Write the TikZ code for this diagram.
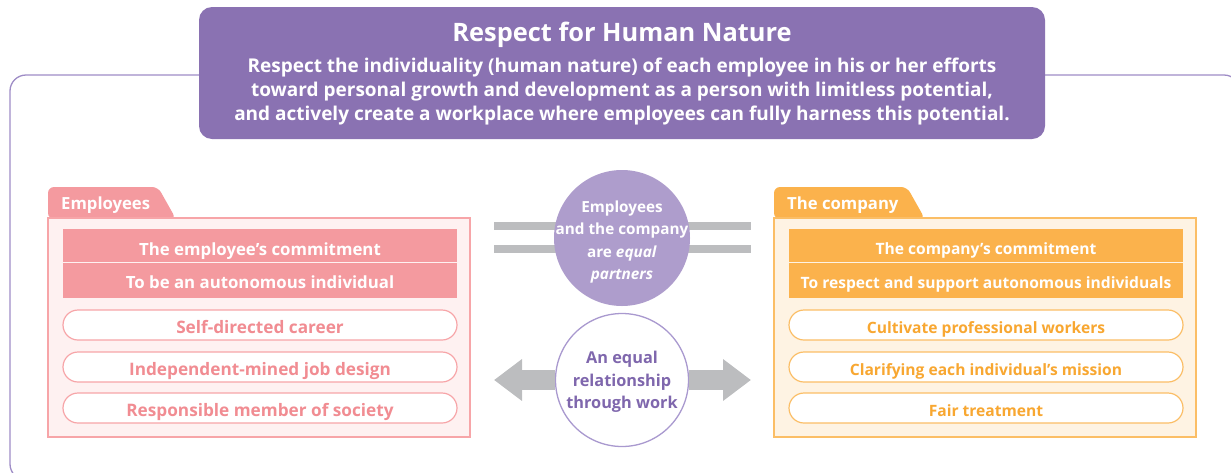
\documentclass[tikz,border=0pt]{standalone}
\usepackage{fontspec}
\setmainfont{Open Sans}
\usetikzlibrary{arrows.meta}
\definecolor{hnpurple}{HTML}{8A72B2}
\definecolor{hnframe}{HTML}{9E8CC6}
\definecolor{hncircle}{HTML}{AE9DCC}
\definecolor{hnreltext}{HTML}{7F67AD}
\definecolor{hnrelline}{HTML}{A999CF}
\definecolor{empmain}{HTML}{F49A9F}
\definecolor{empfill}{HTML}{FEF1F1}
\definecolor{emptext}{HTML}{F18C92}
\definecolor{empline}{HTML}{F7A5A8}
\definecolor{commain}{HTML}{FBB24C}
\definecolor{comfill}{HTML}{FEF3E3}
\definecolor{comtext}{HTML}{F8A731}
\definecolor{comline}{HTML}{FBBE66}
\definecolor{hngray}{HTML}{BCBDBF}

\begin{document}
\begin{tikzpicture}[x=1pt, y=-1pt,
  every node/.style={font=\bfseries, inner sep=0pt},
  band/.style={rectangle, minimum width=394pt, text=white, font=\bfseries\fontsize{16.8}{18}\selectfont},
  pill/.style={rectangle, rounded corners=15pt, draw=#1, line width=1.2pt, fill=white, minimum width=394pt, minimum height=30pt,
    text height=16pt, text depth=0pt, font=\bfseries\fontsize{17.2}{18}\selectfont},
  small/.style={font=\bfseries\fontsize{15.6}{18}\selectfont},
  tab/.style={text=white, anchor=west, font=\bfseries\fontsize{16.7}{20}\selectfont}]
  \useasboundingbox (0,0) rectangle (1231,472);

  % outer frame and title
  \draw[hnframe, line width=1.3pt, rounded corners=16pt] (10,75) rectangle (1240,480);
  \fill[hnpurple, rounded corners=13pt] (199,7) rectangle (1045,139);
  \node[text=white, font=\bfseries\fontsize{25.4}{28}\selectfont] (title) at (622,35) {Respect for Human Nature};
  \node[text=white, align=center, font=\bfseries\fontsize{19}{24}\selectfont] (desc) at (622,92)
    {Respect the individuality (human nature) of each employee in his or her efforts\\
     toward personal growth and development as a person with limitless potential,\\
     and actively create a workplace where employees can fully harness this potential.};

  % employees panel
  \fill[empmain, rounded corners=6pt] (48,219) -- (48,187) -- (158,187) -- (176,219) -- cycle;
  \filldraw[fill=empfill, draw=empline, line width=1.2pt] (48,218) rectangle (470,437);
  \node[tab] (emp) at (61,205) {Employees};
  \node[band, fill=empmain, minimum height=33pt, text height=19pt, text depth=0pt] (ec1) at (260,245.5) {The employee’s commitment};
  \node[band, fill=empmain, minimum height=36pt, text height=16pt, text depth=0pt] (ec2) at (260,280) {To be an autonomous individual};
  \draw[empfill, line width=1.2pt] (ec1.south west) -- (ec1.south east);
  \node[pill=empline, text=emptext] (e1) at (260,325) {Self-directed career};
  \node[pill=empline, text=emptext] (e2) at (260,367) {Independent-mined job design};
  \node[pill=empline, text=emptext] (e3) at (260,408) {Responsible member of society};

  % company panel
  \fill[commain, rounded corners=6pt] (774,219) -- (774,187) -- (907,187) -- (925,219) -- cycle;
  \filldraw[fill=comfill, draw=comline, line width=1.2pt] (774,218) rectangle (1196,437);
  \node[tab] (com) at (787,205) {The company};
  \node[band, small, fill=commain, minimum height=33pt, text height=18pt, text depth=0pt] (cc1) at (986,245.5) {The company’s commitment};
  \node[band, small, fill=commain, minimum height=36pt, text height=16pt, text depth=0pt] (cc2) at (986,280) {To respect and support autonomous individuals};
  \draw[comfill, line width=1.2pt] (cc1.south west) -- (cc1.south east);
  \node[pill=comline, small, text=comtext] (c1) at (986,325) {Cultivate professional workers};
  \node[pill=comline, small, text=comtext] (c2) at (986,367) {Clarifying each individual’s mission};
  \node[pill=comline, small, text=comtext] (c3) at (986,408) {Fair treatment};

  % middle: equal partners
  \coordinate (barA1) at (494,226);
  \coordinate (barA2) at (751,226);
  \coordinate (barB1) at (494,249);
  \coordinate (barB2) at (751,249);
  \draw[hngray, line width=8pt] (barA1) -- (barA2);
  \draw[hngray, line width=8pt] (barB1) -- (barB2);
  \node[circle, fill=hncircle, minimum size=136pt] (partners) at (622,238) {};
  \node[text=white, align=center, font=\bfseries\fontsize{15.3}{22.5}\selectfont] (partnerstxt) at (622,242)
    {Employees\\and the company\\are \textit{equal}\\\textit{partners}};

  % middle: equal relationship
  \coordinate (tipL) at (494,380);
  \coordinate (tipR) at (751,380);
  \node[circle, draw=hnrelline, line width=1.3pt, fill=white, minimum size=133pt] (rel) at (622,380) {};
  \node[text=hnreltext, align=center, font=\bfseries\fontsize{16.3}{22.5}\selectfont] (reltxt) at (622,382)
    {An equal\\relationship\\through work};
  \draw[hngray, line width=20pt, -{Triangle[length=28pt, width=40pt]}] (rel.west) -- (tipL);
  \draw[hngray, line width=20pt, -{Triangle[length=28pt, width=40pt]}] (rel.east) -- (tipR);
\end{tikzpicture}
\end{document}
